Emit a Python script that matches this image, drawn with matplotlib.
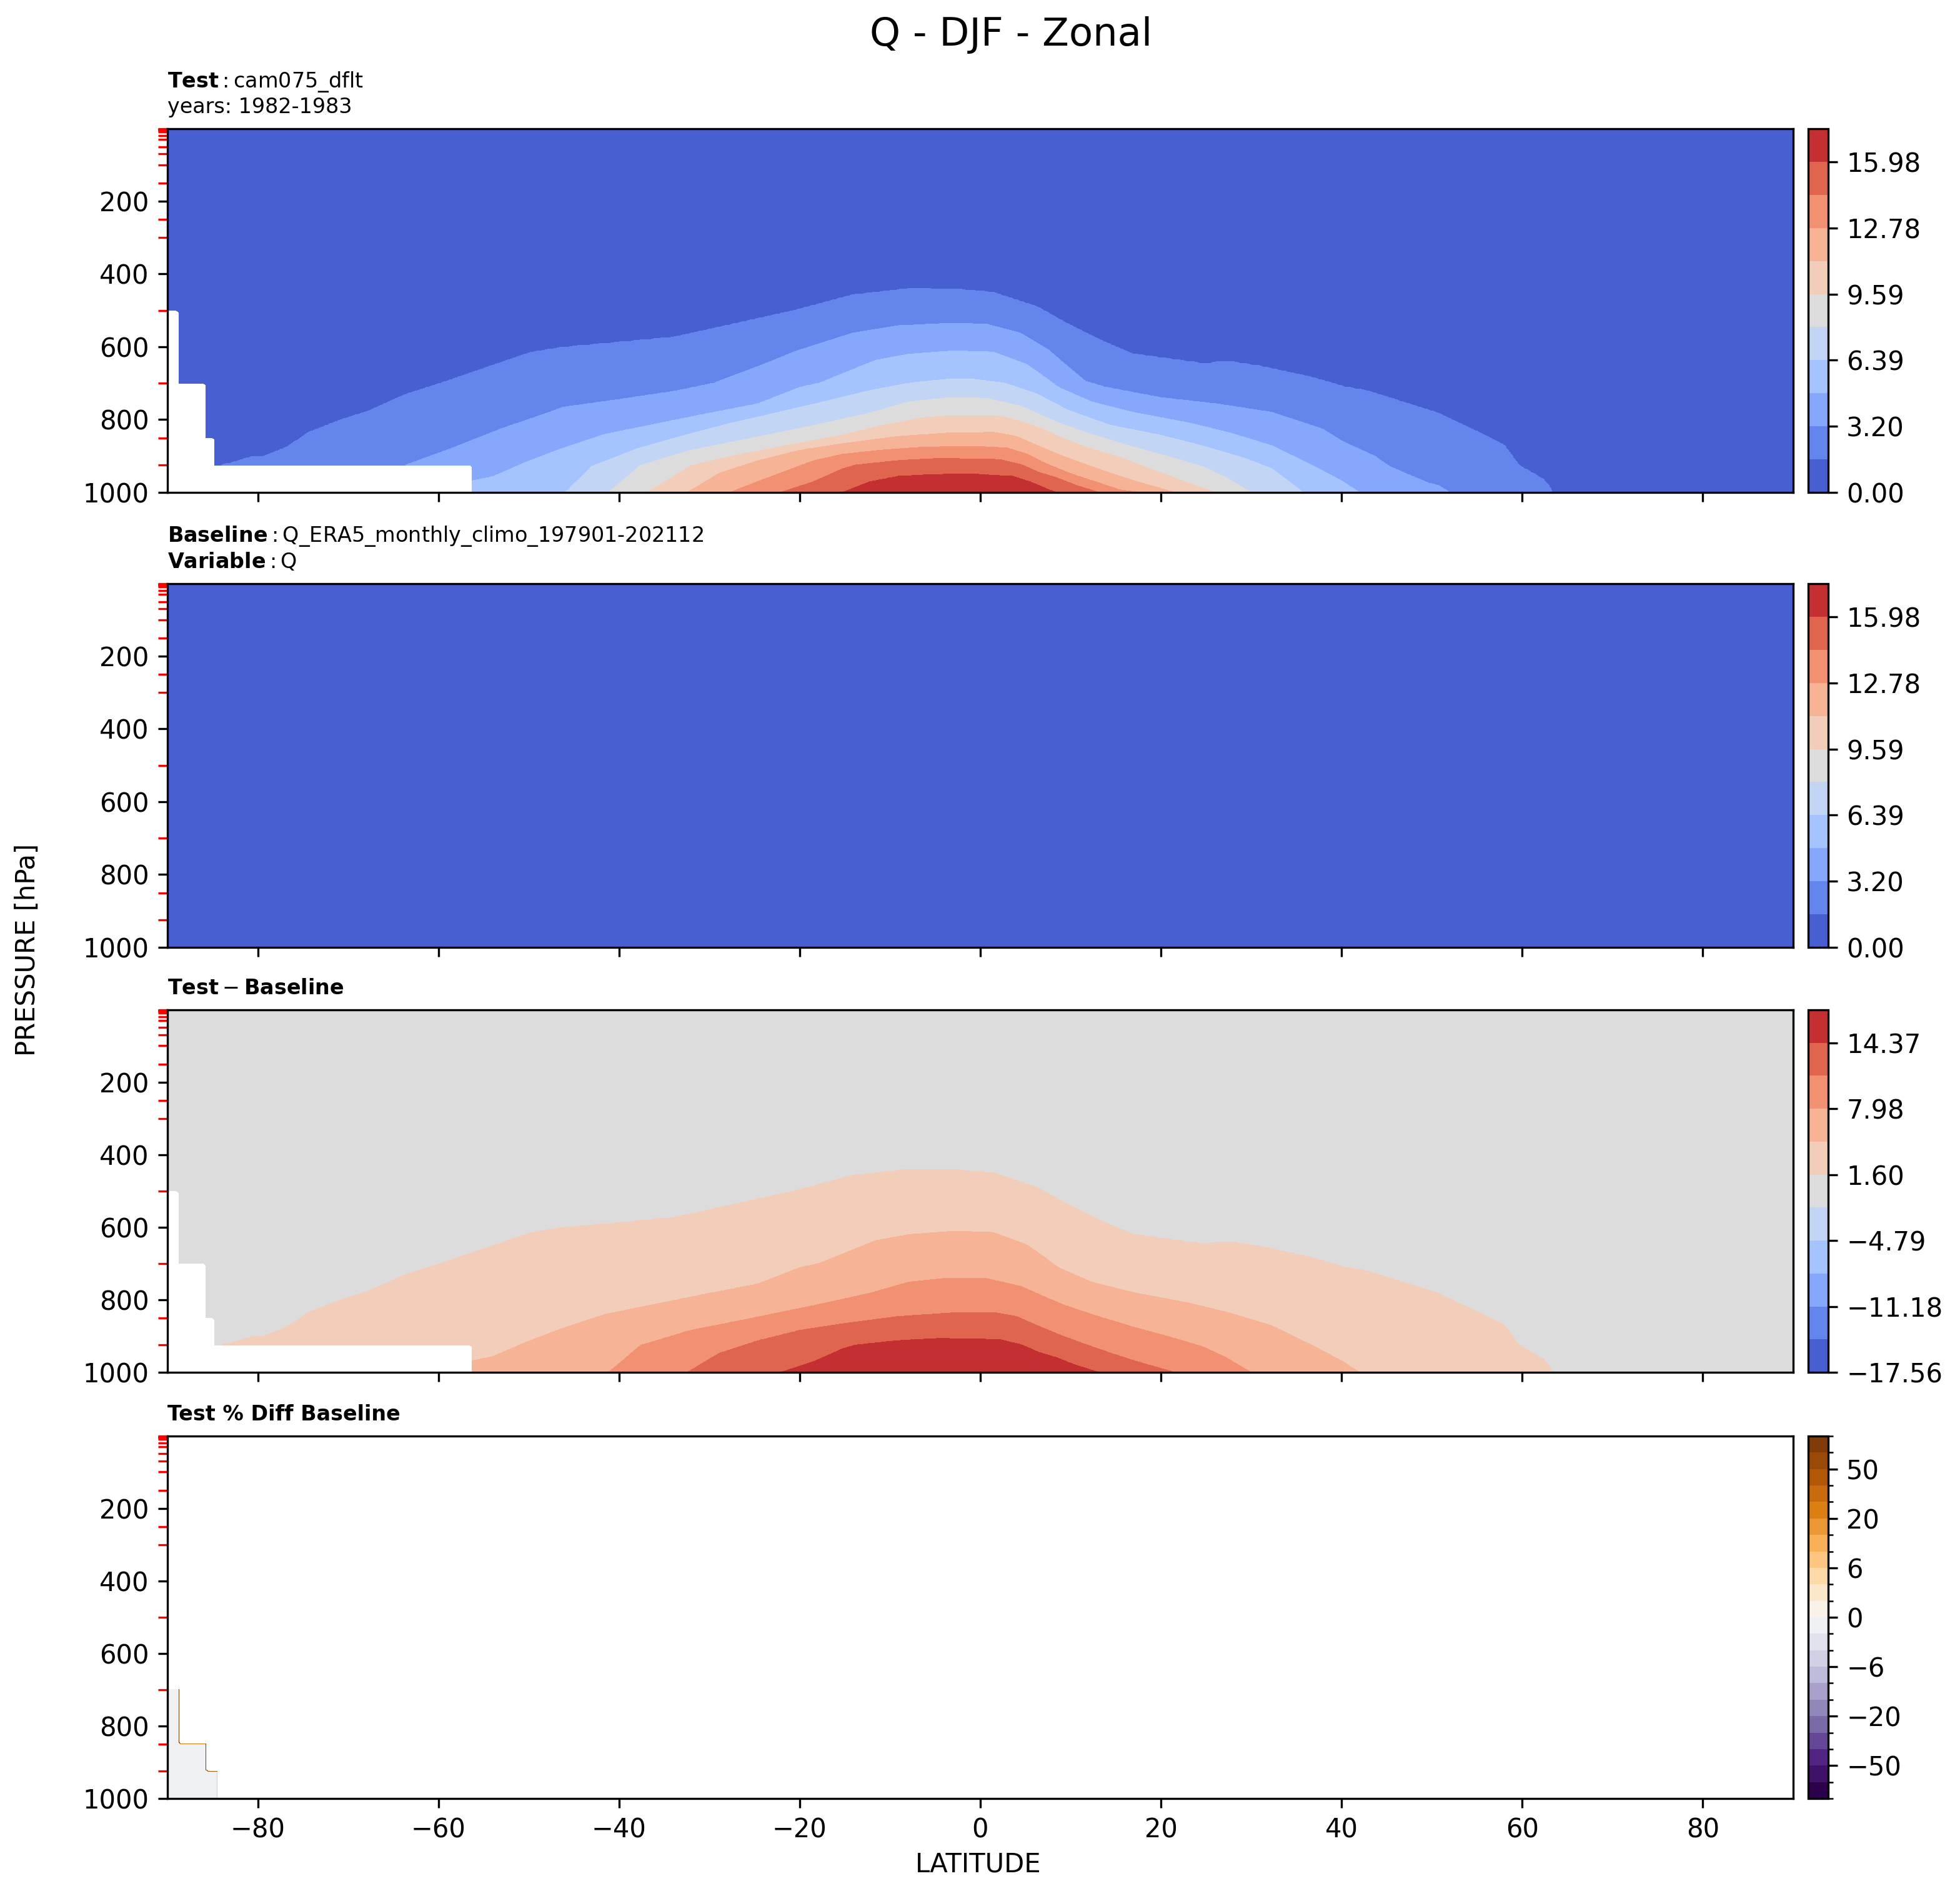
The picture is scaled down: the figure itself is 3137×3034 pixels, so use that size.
import numpy as np
import matplotlib
matplotlib.use("Agg")
import matplotlib.pyplot as plt
import matplotlib.colors as mcolors
from matplotlib.ticker import FuncFormatter

# ---------------- text ----------------
suptitle = "Q - DJF - Zonal"
test_name = "cam075_dflt"
test_years = "1982-1983"
base_name = "Q_ERA5_monthly_climo_197901-202112"
var_name = "Q"

# ---------------- colour-bar ranges ----------------
test_range = [0.0, 17.575]          # g/kg, 11 equal bands (test & baseline)
diff_range = [-17.5649, 17.5649]    # 11 equal bands
n_bands = 11
pct_levels = [-100, -75, -50, -40, -30, -20, -10, -8, -6, -4, -2, 0,
              2, 4, 6, 8, 10, 20, 30, 40, 50, 75, 100]
pct_major = [-50, -20, -6, 0, 6, 20, 50]

# data pressure levels (red minor ticks)
plev = [1, 2, 3, 5, 7, 10, 20, 30, 50, 70, 100, 150, 200, 250, 300,
        400, 500, 600, 700, 850, 925, 1000]

# ---------------- test Q isolines ----------------
# pressure (hPa) of each band boundary as a function of latitude
iso1_lat = [-90, -85, -83.1, -80.8, -79.5, -76.8, -74.3, -71.8, -70.4, -67.8, -63.7, -59.3,
            -53.8, -49.8, -46.3, -40, -33.9, -27.7, -20.6, -14.1, -7.9, -3, 1.4, 6.3, 9.4,
            13.1, 16.8, 21.8, 24.8, 27.3, 31, 36.6, 40.4, 42.8, 47.4, 50.6, 55.3, 58, 59.6,
            62.2, 62.9, 63.2, 90]
iso1_p = [960, 930, 921, 904, 903, 877, 835, 811, 798, 778, 732, 697,
          650, 616, 602, 588, 574, 540, 501, 458, 441, 442, 451, 491, 534,
          580, 620, 637, 647, 640, 654, 684, 711, 721, 757, 782, 837, 871, 926,
          963, 980, 1000, 1150]

iso2_lat = [-90, -66, -63.8, -58.3, -53, -47.7, -46.2, -40, -33.8, -29.5, -24.6, -20.3,
            -14.1, -9.1, -3, 0.7, 4.4, 7.5, 11.6, 13.8, 20, 26.2, 32.3, 37.9, 40.1,
            43.7, 45.3, 49.5, 50.8, 51.9, 90]
iso2_p = [1100, 940, 927, 877, 825, 780, 766, 745, 722, 700, 654, 611,
          562, 542, 535, 538, 562, 608, 695, 711, 740, 757, 780, 826, 860,
          901, 929, 974, 982, 1000, 1200]

iso3_lat = [-90, -62, -56.2, -54, -50.3, -46.2, -41.5, -36.9, -30.7, -24.6, -19.9, -17.8,
            -11.6, -7.9, -3, 1.4, 5.1, 7.5, 8.6, 12.3, 16.9, 23.1, 27.7, 32.3, 37,
            40.1, 41.9, 90]
iso3_p = [1150, 1000, 968, 957, 917, 878, 840, 817, 786, 757, 711, 700,
          637, 620, 611, 614, 648, 690, 711, 751, 780, 809, 837, 872, 929,
          970, 1000, 1250]

iso4_lat = [-90, -45.9, -43, -38, -32.3, -27.7, -18.4, -12.2, -7.9, -3.6, -0.8, 2.7,
            6.2, 9.7, 14.3, 20, 24.6, 29.3, 32.3, 35.7, 90]
iso4_p = [1200, 1000, 928, 880, 840, 810, 757, 720, 700, 689, 689, 700,
          729, 774, 815, 843, 872, 906, 935, 1000, 1300]

iso5_lat = [-90, -41.1, -37.6, -32.2, -26.1, -18.8, -12.2, -7.9, -3.6, 0.6, 4.5, 7.0,
            9.2, 12.3, 16.9, 21.5, 24.6, 27.1, 29.9, 90]
iso5_p = [1250, 1000, 925, 885, 855, 818, 782, 751, 740, 741, 763, 791,
          814, 840, 875, 906, 929, 958, 1000, 1350]

iso6_lat = [-90, -36.8, -32, -27.7, -21.5, -15.3, -10.5, -6, -3, 1, 2.4, 4.6,
            7, 8.9, 12, 15.4, 18.8, 21.9, 25.9, 90]
iso6_p = [1300, 1000, 926, 901, 872, 843, 814, 794, 789, 789, 791, 806,
          826, 849, 878, 903, 935, 964, 1000, 1400]

iso7_lat = [-90, -32.4, -28.9, -24.6, -19.9, -15.3, -9.1, -3, 1.5, 4, 6.1, 8.6,
            11.4, 14.4, 17.5, 21.5, 90]
iso7_p = [1350, 1000, 947, 912, 883, 866, 846, 836, 835, 846, 869, 895,
          921, 947, 972, 1000, 1450]

iso8_lat = [-90, -27.7, -24.6, -21.5, -18.4, -15.3, -10.7, -6, 0, 3, 5.2, 7,
            9.8, 12.6, 15.4, 17.8, 90]
iso8_p = [1400, 1000, 970, 941, 912, 895, 883, 875, 874, 878, 895, 918,
          947, 970, 993, 1000, 1500]

iso9_lat = [-90, -22.1, -18.4, -15.3, -13.8, -9.1, -4.5, 2.1, 4.6, 6.4, 8.3, 10.7, 13.2, 90]
iso9_p = [1450, 1000, 970, 935, 924, 912, 906, 909, 924, 944, 958, 981, 1000, 1550]

iso10_lat = [-90, -15.3, -12.2, -9.1, -6, -1.4, 0.7, 3.6, 5.5, 7.7, 8.6, 90]
iso10_p = [1500, 1000, 970, 955, 951, 949, 951, 955, 970, 993, 1000, 1600]

peak_lat = [-90, -3, 90]
peak_p = [1600, 1000, 1700]

# below-ground (missing) region of the test case: top pressure and east edge
mask_top = [500, 700, 850, 925]
mask_east = [-88.6, -85.6, -84.6, -56.2]
# small polar patch where the percent difference is ~0
pct_patch_top = [700, 850, 925]
pct_patch_east = [-88.6, -85.6, -84.3]
pct_patch_value = -1.0
pct_outside_value = 1.0e5
base_unit_factor = 1000.0   # baseline stored in kg/kg, test in g/kg

# ---------------- build fields ----------------
dlat = 0.25
lat = np.arange(-90, 90 + dlat / 2, dlat)
lev = np.concatenate(([1.0], np.arange(5, 1001, 5)))

iso_lats = [iso1_lat, iso2_lat, iso3_lat, iso4_lat, iso5_lat, iso6_lat, iso7_lat,
            iso8_lat, iso9_lat, iso10_lat, peak_lat]
iso_ps = [iso1_p, iso2_p, iso3_p, iso4_p, iso5_p, iso6_p, iso7_p,
          iso8_p, iso9_p, iso10_p, peak_p]
lv_test = np.linspace(test_range[0], test_range[1], n_bands + 1)
iso_vals = lv_test[1:]

P = np.array([np.interp(lat, la, pp) for la, pp in zip(iso_lats, iso_ps)])
for k in range(1, P.shape[0]):
    P[k] = np.maximum(P[k], P[k - 1] + 1.0)

Q = np.empty((lev.size, lat.size))
for j in range(lat.size):
    xp = np.concatenate(([0.0], P[:, j]))
    fp = np.concatenate(([0.0], iso_vals))
    Q[:, j] = np.interp(lev, xp, fp)

LAT, LEV = np.meshgrid(lat, lev)
missing = np.zeros_like(Q, dtype=bool)
for pt, le in zip(mask_top, mask_east):
    missing |= (LEV > pt) & (LAT <= le - dlat)

test = np.where(missing, np.nan, Q)
base = Q / base_unit_factor
diff = test - base
pct = 100.0 * (test - base) / base
pct = np.where(missing, pct_outside_value, pct)
for pt, le in zip(pct_patch_top, pct_patch_east):
    pct[(LEV >= pt) & (LAT <= le)] = pct_patch_value

lv_diff = np.linspace(diff_range[0], diff_range[1], n_bands + 1)

# ---------------- figure ----------------
W, H = 3137, 3034
fig = plt.figure(figsize=(W / 300, H / 300), dpi=300)

px_left, px_right = 134, 1435
half_w, half_h = 1568.5, 1517.0
rows = [(103, 394), (467, 758), (808, 1098), (1149, 1439)]
cb_left, cb_w = 1447, 16

def frac_rect(top, bot):
    return [px_left / half_w, 1 - bot / half_h, (px_right - px_left) / half_w, (bot - top) / half_h]

def cb_rect(top, bot):
    return [cb_left / half_w, 1 - bot / half_h, cb_w / half_w, (bot - top) / half_h]

minus_fmt = FuncFormatter(lambda x, pos: f"{x:.2f}".replace("-", "\u2212"))

fields = [test, base, diff, pct]
axes = []
for i, (top, bot) in enumerate(rows):
    ax = fig.add_axes(frac_rect(top, bot))
    cax = fig.add_axes(cb_rect(top, bot))
    if i < 2:
        cf = ax.contourf(lat, lev, fields[i], levels=lv_test, cmap="coolwarm")
        cb = fig.colorbar(cf, cax=cax, ticks=lv_test[::2])
        cb.ax.yaxis.set_major_formatter(minus_fmt)
    elif i == 2:
        cf = ax.contourf(lat, lev, fields[i], levels=lv_diff, cmap="coolwarm")
        cb = fig.colorbar(cf, cax=cax, ticks=lv_diff[::2])
        cb.ax.yaxis.set_major_formatter(minus_fmt)
    else:
        cmap = plt.get_cmap("PuOr_r")
        norm = mcolors.BoundaryNorm(pct_levels, cmap.N)
        cf = ax.contourf(lat, lev, fields[i], levels=pct_levels, cmap=cmap, norm=norm)
        cb = fig.colorbar(cf, cax=cax, ticks=pct_major)
        cb.set_ticks(pct_levels, minor=True)
    cb.ax.tick_params(labelsize=10)

    ax.set_xlim(-90, 90)
    ax.set_ylim(1000, 1)
    ax.set_xticks(np.arange(-80, 81, 20))
    ax.set_yticks([200, 400, 600, 800, 1000])
    ax.set_yticks(plev, minor=True)
    ax.tick_params(axis="y", which="minor", color="red", length=3.5, width=0.8)
    ax.tick_params(labelsize=10)
    if i < 3:
        ax.tick_params(axis="x", labelbottom=False)
    axes.append(ax)

axes[0].set_title(r"$\mathbf{Test}:$" + f"{test_name}\nyears: {test_years}",
                  loc="left", fontsize=8)
axes[1].set_title(r"$\mathbf{Baseline}:$" + f"{base_name}\n" + r"$\mathbf{Variable}:$" + f"{var_name}",
                  loc="left", fontsize=8)
axes[2].set_title(r"$\mathbf{Test} - \mathbf{Baseline}$", loc="left", fontsize=8)
axes[3].set_title("Test % Diff Baseline", loc="left", fontsize=8, fontweight="bold")

fig.text(809 / half_w, 1 - 28 / half_h, suptitle, ha="center", va="center", fontsize=15)
fig.text(783 / half_w, 1 - 1492 / half_h, "LATITUDE", ha="center", va="center", fontsize=10)
fig.text(22 / half_w, 1 - 760 / half_h, "PRESSURE [hPa]", ha="center", va="center",
         rotation=90, fontsize=10)

fig.savefig("out.png", dpi=300)
